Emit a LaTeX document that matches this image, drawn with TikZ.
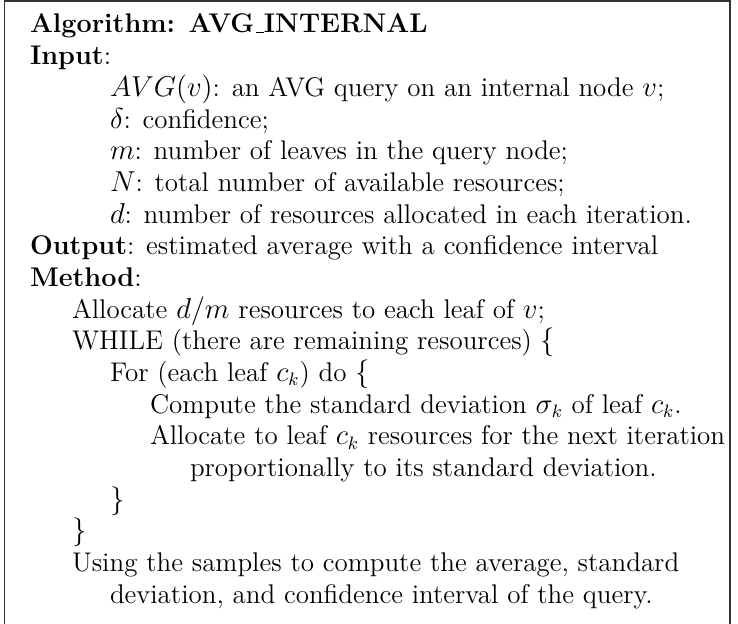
\documentclass[tikz,border=0pt]{standalone}
\newcommand{\myus}{\leavevmode\kern.06em\vbox{\hrule width .3em height 0.7pt}}
\begin{document}
\begin{tikzpicture}[x=0.5pt,y=-0.5pt,
  ln/.style={anchor=base west,inner sep=0pt,outer sep=0pt,font=\fontsize{13.5}{16.5}\selectfont},
  frame/.style={draw=black!80,line width=0.6pt}]
\useasboundingbox (0,0) rectangle (738,624);
\clip (0,0) rectangle (738,624);
\draw[frame] (4.7,1) rectangle (730,640);
\def\dy{31.67}
\node[ln] (l1)  at (30,33)            {\textbf{Algorithm: AVG\myus INTERNAL}};
\node[ln] (l2)  at (30,33+1*\dy)      {\textbf{Input}:};
\node[ln] (l3)  at (110,33+2*\dy)     {$AVG(v)$: an AVG query on an internal node $v$;};
\node[ln] (l4)  at (110,33+3*\dy)     {$\delta$: confidence;};
\node[ln] (l5)  at (110,33+4*\dy)     {$m$: number of leaves in the query node;};
\node[ln] (l6)  at (110,33+5*\dy)     {$N$: total number of available resources;};
\node[ln] (l7)  at (110,33+6*\dy)     {$d$: number of resources allocated in each iteration.};
\node[ln] (l8)  at (30,33+7*\dy)      {\textbf{Output}: estimated average with a confidence interval};
\node[ln] (l9)  at (30,33+8*\dy)      {\textbf{Method}:};
\node[ln] (l10) at (72,33+9*\dy)      {Allocate $d/m$ resources to each leaf of $v$;};
\node[ln] (l11) at (72,33+10*\dy)     {WHILE (there are remaining resources) $\{$};
\node[ln] (l12) at (110,33+11*\dy)    {For (each leaf $c_k$) do $\{$};
\node[ln] (l13) at (150,33+12*\dy)    {Compute the standard deviation $\sigma_k$ of leaf $c_k$.};
\node[ln] (l14) at (150,33+13*\dy)    {Allocate to leaf $c_k$ resources for the next iteration};
\node[ln] (l15) at (190,33+14*\dy)    {proportionally to its standard deviation.};
\node[ln] (l16) at (110,33+15*\dy)    {$\}$};
\node[ln] (l17) at (72,33+16*\dy)     {$\}$};
\node[ln] (l18) at (72,33+17*\dy)     {Using the samples to compute the average, standard};
\node[ln] (l19) at (110,33+18*\dy)    {deviation, and confidence interval of the query.};
\end{tikzpicture}
\end{document}
